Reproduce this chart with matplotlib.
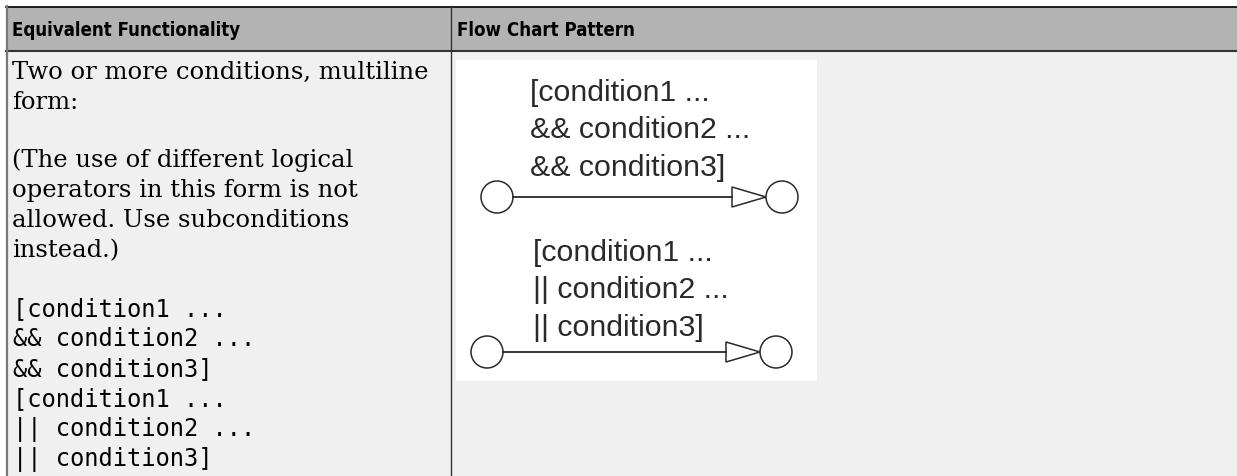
import matplotlib.pyplot as plt
from matplotlib.patches import Rectangle, Circle, Polygon

headers = ["Equivalent Functionality", "Flow Chart Pattern"]
desc_lines = ["Two or more conditions, multiline", "form:"]
note_lines = ["(The use of different logical", "operators in this form is not",
              "allowed. Use subconditions", "instead.)"]
code_lines = ["[condition1 ...", "&& condition2 ...", "&& condition3]",
              "[condition1 ...", "|| condition2 ...", "|| condition3]"]
and_label = ["[condition1 ...", "&& condition2 ...", "&& condition3]"]
or_label = ["[condition1 ...", "|| condition2 ...", "|| condition3]"]

W, H = 1237, 477
fig = plt.figure(figsize=(W / 100, H / 100), dpi=100)
ax = fig.add_axes([0, 0, 1, 1])
ax.set_xlim(0, W)
ax.set_ylim(H, 0)
ax.axis("off")
renderer = fig.canvas.get_renderer()


def fit(t, width):
    w = t.get_window_extent(renderer).width
    t.set_fontsize(t.get_fontsize() * width / w)


# table frame
ax.add_patch(Rectangle((6, 52), W, H, facecolor="#f0f0f0", edgecolor="none"))
ax.add_patch(Rectangle((6, 8), W, 44, facecolor="#b3b3b3", edgecolor="none"))
ax.plot([6, W], [7.5, 7.5], color="black", lw=1.2)
ax.plot([6, W], [51.5, 51.5], color="#333333", lw=1.5)
ax.plot([6.5, 6.5], [7, H], color="#7a7a7a", lw=1.6)
ax.plot([450.5, 450.5], [7, H], color="#333333", lw=1.0)

# header: a condensed bold face if one is installed, else Roboto
probe_n = ax.text(0, 0, headers[0], fontsize=17, fontweight="bold", family="DejaVu Sans")
probe_c = ax.text(0, 0, headers[0], fontsize=17, fontweight="bold", family="DejaVu Sans",
                  fontstretch="condensed")
wn = probe_n.get_window_extent(renderer).width
wc = probe_c.get_window_extent(renderer).width
probe_n.remove()
probe_c.remove()
if wc < 0.93 * wn:
    hkw = dict(family="DejaVu Sans", fontstretch="condensed")
else:
    hkw = dict(family=["Roboto", "DejaVu Sans"])

h1 = ax.text(12, 30.5, headers[0], fontsize=17, fontweight="bold", va="center", **hkw)
fit(h1, 230)
ax.text(457, 30.5, headers[1], fontsize=h1.get_fontsize(), fontweight="bold",
        va="center", **hkw)

# left column
L, G = 30.2, 58
serif = ["DejaVu Serif"]
t = ax.text(12, 72, desc_lines[0], fontsize=17, family=serif, va="center")
fit(t, 415)
fs = t.get_fontsize()
ax.text(12, 72 + L, desc_lines[1], fontsize=fs, family=serif, va="center")
y0 = 72 + L + G
for i, s in enumerate(note_lines):
    ax.text(12, y0 + i * L, s, fontsize=fs, family=serif, va="center")

mono = ["DejaVu Sans Mono"]
t = ax.text(13, 344, code_lines[1], fontsize=17, family=mono, va="center")
fit(t, 244)
mfs = t.get_fontsize()
t.remove()
y1 = y0 + 3 * L + G
for i, s in enumerate(code_lines):
    ax.text(13, y1 + i * L, s, fontsize=mfs, family=mono, va="center")

# flow chart picture
ax.add_patch(Rectangle((456, 61), 361, 321, facecolor="white", edgecolor="none"))
sans = ["Liberation Sans"]
t = ax.text(530, 130, and_label[1], fontsize=17, family=sans, va="center")
fit(t, 228)
ffs = t.get_fontsize() * 0.97
t.remove()

ink = "#2a2a2a"
groups = [(and_label, 530, 93, 497, 782, 198), (or_label, 533, 253, 487, 776, 353)]
for label, tx, ty, cx0, cx1, cy in groups:
    for i, s in enumerate(label):
        ax.text(tx, ty + i * 37.5, s, fontsize=ffs, family=sans, color=ink, va="center")
    r = 16
    ax.add_patch(Circle((cx0, cy), r, facecolor="none", edgecolor=ink, lw=1.1))
    ax.add_patch(Circle((cx1, cy), r, facecolor="none", edgecolor=ink, lw=1.1))
    base = cx1 - r - 34
    ax.plot([cx0 + r, base], [cy, cy], color=ink, lw=1.3)
    ax.add_patch(Polygon([(base, cy - 10), (base, cy + 10), (cx1 - r, cy)],
                         closed=True, facecolor="white", edgecolor=ink, lw=1.1))

fig.savefig("out.png", dpi=100)
